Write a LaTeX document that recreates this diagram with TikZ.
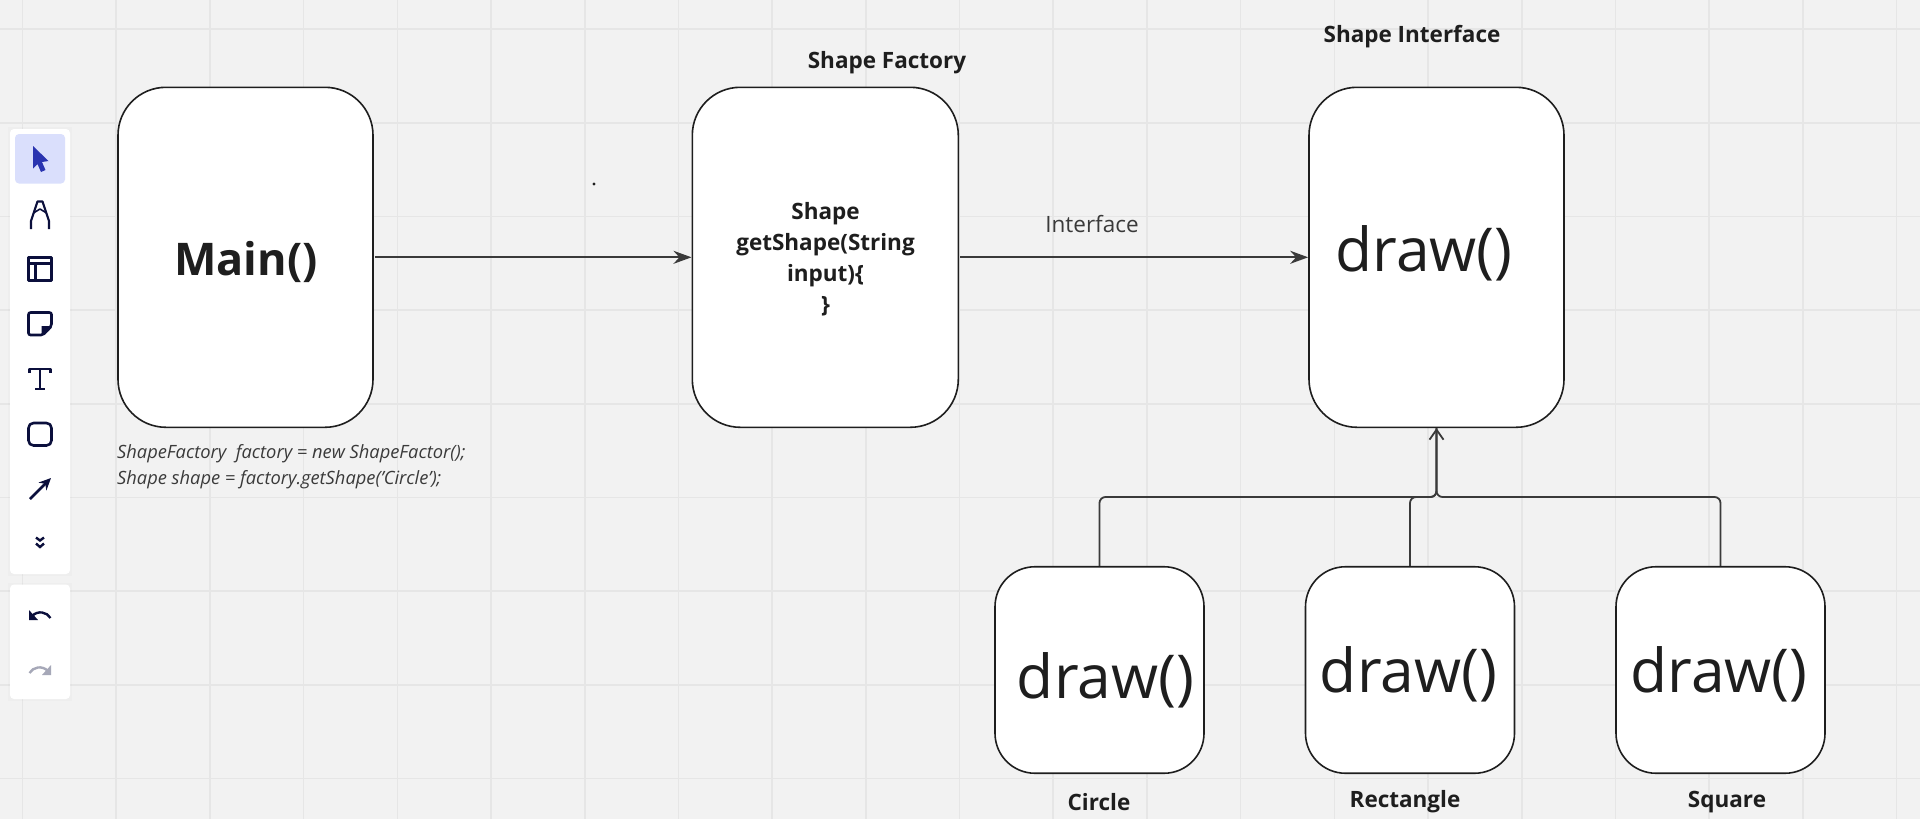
\documentclass[tikz,border=0pt]{standalone}
\usepackage{fontspec}
\setmainfont{Open Sans}
\usetikzlibrary{arrows.meta}
\definecolor{bgc}{HTML}{F2F2F2}
\definecolor{gridc}{HTML}{E6E6E6}
\definecolor{ink}{HTML}{1E1E1E}
\definecolor{linec}{HTML}{3A3A3A}
\definecolor{navy}{HTML}{0B0F3C}
\definecolor{blu}{HTML}{2A34B0}
\definecolor{hl}{HTML}{DADFFC}
\definecolor{redoc}{HTML}{A6A8B8}
\tikzset{
  x=1pt,y=-1pt,
  bigbox/.style={draw=ink,fill=white,line width=1.6pt,rounded corners=48pt,inner sep=0pt},
  smallbox/.style={draw=ink,fill=white,line width=1.6pt,rounded corners=40pt,inner sep=0pt,minimum width=209pt,minimum height=206.5pt},
  flow/.style={draw=linec,line width=2.2pt,shorten <=1pt,-{Stealth[length=18pt,width=13pt]}},
  link/.style={draw=linec,line width=1.8pt,rounded corners=6pt},
  inherit/.style={link,-{Straight Barb[length=10pt,width=14pt]}},
  title/.style={font=\fontsize{22.5}{26}\selectfont\bfseries,text=ink,inner sep=0pt},
  call/.style={font=\fontsize{60.5}{70}\selectfont,text=ink,inner sep=0pt},
  panel/.style={fill=white,rounded corners=4pt,draw=none},
  icon/.style={draw=navy,line width=2.2pt,line join=round}
}
\begin{document}
\begin{tikzpicture}
\useasboundingbox (0,0) rectangle (1920,819);
\fill[bgc] (0,0) rectangle (1920,819);
% grid
\foreach \k in {0,...,20} \draw[gridc,line width=1.6pt] ({22.5+93.7*\k},0) -- ({22.5+93.7*\k},819);
\foreach \k in {0,...,8} \draw[gridc,line width=1.6pt] (0,{29+93.7*\k}) -- (1920,{29+93.7*\k});
% boxes
\node[bigbox,minimum width=255pt,minimum height=340pt] (main) at (245.5,257.3) {};
\node[bigbox,minimum width=266pt,minimum height=340pt] (factory) at (825.3,257.3) {};
\node[bigbox,minimum width=255pt,minimum height=340pt] (iface) at (1436.5,257.3) {};
\node[smallbox] (circ) at (1099.5,670) {};
\node[smallbox] (rect) at (1410,670) {};
\node[smallbox] (squa) at (1720.5,670) {};
% box texts
\node[font=\fontsize{45}{54}\selectfont\bfseries,text=ink,inner sep=0pt] (maint) at (246,261.5) {Main()};
\node[font=\fontsize{22.5}{31}\selectfont\bfseries,text=ink,align=center,inner sep=0pt] (factt) at (825.5,259.5) {Shape\\getShape(String\\input)\{\\\}};
\node[call] (ifacet) at (1424,253.5) {draw()};
\node[call] (circt) at (1105.5,680.5) {draw()};
\node[call] (rectt) at (1408.5,674.5) {draw()};
\node[call] (squat) at (1719,674.5) {draw()};
% titles
\node[title] (tf) at (887,63) {Shape Factory};
\node[title] (ti) at (1412,37) {Shape Interface};
\node[title] (tc) at (1099,802) {Circle};
\node[title] (tr) at (1405,802) {Rectangle};
\node[title] (ts) at (1727,802) {Square};
\node[font=\fontsize{22.5}{26}\selectfont,text=linec,inner sep=0pt] (lab) at (1092,224) {Interface};
\node[font=\fontsize{18.3}{26}\selectfont\itshape,text=linec,align=left,anchor=north west,inner sep=0pt] (code) at (117,444)
  {ShapeFactory\ \ factory = new ShapeFactor();\\Shape shape = factory.getShape('Circle');};
% dot
\fill[ink] (594,184) circle (1.6);
% connectors
\draw[flow] (main.east) -- (factory.west);
\draw[flow] (factory.east) -- (iface.west);
\coordinate (busc) at (circ.north |- 0,497);
\coordinate (busr) at (rect.north |- 0,497);
\coordinate (buss) at (squa.north |- 0,497);
\coordinate (busm) at (iface.south |- 0,497);
\draw[link] (circ.north) -- (busc) -- (busm) -- (iface.south);
\draw[link] (rect.north) -- (busr) -- (busm) -- (iface.south);
\draw[inherit] (squa.north) -- (buss) -- (busm) -- (iface.south);
% toolbar
\fill[black,opacity=0.015] (8,127) rectangle (72,576);
\fill[black,opacity=0.015] (8,582.5) rectangle (72,701);
\path[panel] (10,129) rectangle (70,574);
\path[panel] (10,584.5) rectangle (70,699);
\fill[hl,rounded corners=4pt] (15,134) rectangle (65,183.5);
% cursor
\fill[blu] (33,146) -- (48.5,161) -- (42,162) -- (45.5,170) -- (41,172) -- (37.5,164) -- (33,168.5) -- cycle;
% pen
\draw[icon] (31,229) -- (31,221) -- (37.5,201.5) -- (42.5,201.5) -- (49,221) -- (49,229);
\draw[icon,line width=1.6pt] (33.5,213) -- (40,209) -- (46.5,213);
% table
\draw[icon,line width=2.6pt] (28.5,257.5) rectangle (51.5,280.5);
\draw[icon] (28.5,263.5) -- (51.5,263.5) (35.5,263.5) -- (35.5,280.5);
% sticky
\draw[icon,line width=2.6pt,rounded corners=2pt] (28.5,312.5) -- (51.5,312.5) -- (51.5,326) -- (43,335) -- (28.5,335) -- cycle;
\fill[navy] (41.5,335) -- (41.5,326) -- (51.5,326) -- (51.5,328) -- (44,335) -- cycle;
% text tool
\draw[icon] (29.5,373) -- (29.5,369) -- (50.5,369) -- (50.5,373) (40,369) -- (40,389) (35,389) -- (45,389);
% shape tool
\draw[icon,line width=2.6pt,rounded corners=5pt] (28.5,423) rectangle (51.5,445.5);
% arrow tool
\draw[navy,line width=2.6pt,-{Stealth[length=12pt,width=11pt]}] (30,499) -- (51,478);
% chevrons
\draw[navy,line width=2.4pt] (36,537.5) -- (40,540.5) -- (44,537.5) (36,543.5) -- (40,547) -- (44,543.5);
% undo
\draw[navy,line width=2.4pt] (50.5,618) .. controls (47,612) and (38,610) .. (32,616);
\fill[navy] (29,610) -- (29,620) -- (38,620) -- cycle;
% redo
\draw[redoc,line width=2.4pt] (29.5,673) .. controls (33,667) and (42,665) .. (48,671);
\fill[redoc] (51,665) -- (51,675) -- (42,675) -- cycle;
\end{tikzpicture}
\end{document}
